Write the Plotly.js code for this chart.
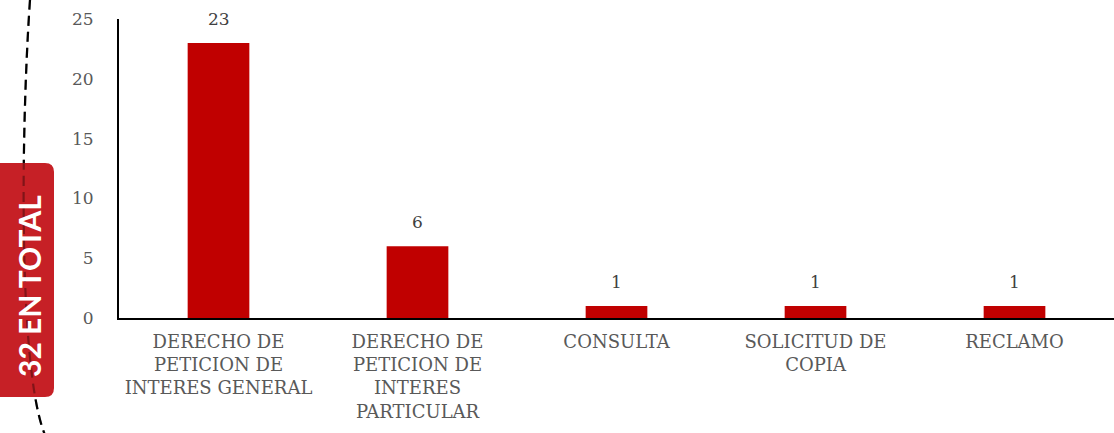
<!DOCTYPE html>
<html>
<head>
<meta charset="utf-8">
<script src="https://cdn.plot.ly/plotly-3.0.1.min.js"></script>
<style>html,body{margin:0;padding:0;background:#fff;}#chart{width:1114px;height:433px;}</style>
</head>
<body>
<div id="chart"></div>
<script>
const categories = [
  "DERECHO DE<br>PETICION DE<br>INTERES GENERAL",
  "DERECHO DE<br>PETICION DE<br>INTERES<br>PARTICULAR",
  "CONSULTA",
  "SOLICITUD DE<br>COPIA",
  "RECLAMO"
];
const values = [23, 6, 1, 1, 1];
const yTicks = [0, 5, 10, 15, 20, 25];
const totalLabel = "32 EN TOTAL";

const W = 1114, H = 433;
const M = {l: 119, r: 0, t: 19, b: 115};
const pw = W - M.l - M.r, ph = H - M.t - M.b;
const px = x => (x - M.l) / pw;
const py = y => (H - M.b - y) / ph;

const serif = "DejaVu Serif, Liberation Serif, serif";

const trace = {
  type: "bar",
  x: categories,
  y: values,
  marker: {color: "#C00000"},
  width: 0.31,
  hoverinfo: "none"
};

const annotations = categories.map((c, i) => ({
  x: c, y: values[i], xref: "x", yref: "y",
  text: String(values[i]), showarrow: false,
  yanchor: "bottom", yshift: 12,
  font: {family: serif, size: 17, color: "#404040"}
}));
annotations.push({
  xref: "paper", yref: "paper",
  x: px(29), y: py(286),
  xanchor: "center", yanchor: "middle",
  text: "<b>" + totalLabel + "</b>", showarrow: false,
  textangle: -90,
  font: {family: "Lato, Open Sans, sans-serif", size: 30, weight: 700, color: "#ffffff"}
});

function roundRect(x0, y0, x1, y1, r) {
  const X = px, Y = py;
  return `M ${X(x0 + r)} ${Y(y0)} L ${X(x1 - r)} ${Y(y0)} ` +
    `Q ${X(x1)} ${Y(y0)} ${X(x1)} ${Y(y0 + r)} L ${X(x1)} ${Y(y1 - r)} ` +
    `Q ${X(x1)} ${Y(y1)} ${X(x1 - r)} ${Y(y1)} L ${X(x0 + r)} ${Y(y1)} ` +
    `Q ${X(x0)} ${Y(y1)} ${X(x0)} ${Y(y1 - r)} L ${X(x0)} ${Y(y0 + r)} ` +
    `Q ${X(x0)} ${Y(y0)} ${X(x0 + r)} ${Y(y0)} Z`;
}

const arcPath = `M ${px(30)} ${py(0)} C ${px(21)} ${py(130)}, ${px(18)} ${py(370)}, ${px(45)} ${py(435)}`;

const layout = {
  width: W, height: H,
  margin: M,
  paper_bgcolor: "#fff", plot_bgcolor: "#fff",
  showlegend: false,
  bargap: 0.69,
  xaxis: {
    showline: true, linecolor: "#000", linewidth: 2,
    ticks: "", showgrid: false, zeroline: false,
    ticklabelstandoff: 6,
    tickfont: {family: serif, size: 18, color: "#595959"},
    automargin: false
  },
  yaxis: {
    range: [0, 25], tickvals: yTicks,
    showline: true, linecolor: "#000", linewidth: 2,
    ticks: "", showgrid: false, zeroline: false,
    ticklabelstandoff: 20,
    tickfont: {family: serif, size: 17, color: "#595959"},
    automargin: false
  },
  shapes: [
    {type: "path", xref: "paper", yref: "paper", path: arcPath,
     line: {color: "#000", width: 2.2, dash: "10px,6px"}, layer: "above"},
    {type: "path", xref: "paper", yref: "paper",
     path: roundRect(-8, 163, 54, 397, 9),
     fillcolor: "#C62026", line: {width: 0}, layer: "above"},
    {type: "path", xref: "paper", yref: "paper", path: arcPath,
     line: {color: "rgba(0,0,0,0.35)", width: 2.2, dash: "10px,6px"}, layer: "above"}
  ],
  annotations: annotations
};

Plotly.newPlot("chart", [trace], layout, {displayModeBar: false, staticPlot: true});
</script>
</body>
</html>
